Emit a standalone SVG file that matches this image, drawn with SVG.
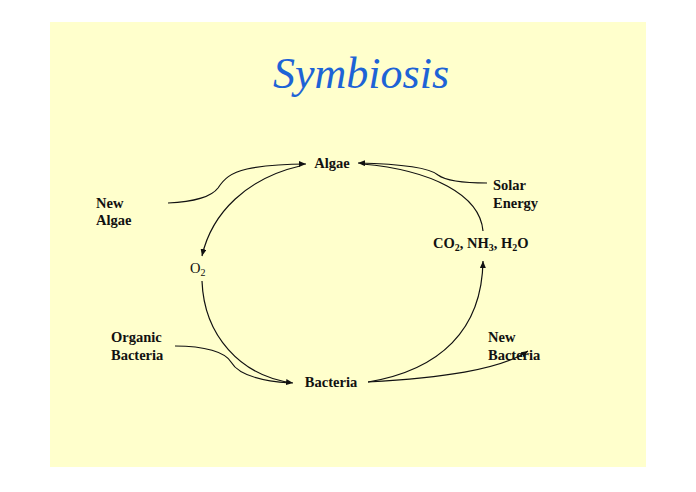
<svg xmlns="http://www.w3.org/2000/svg" width="696" height="492" viewBox="0 0 696 492">
  <style>
    .lbl { font-family: "Liberation Serif", "Times New Roman", serif; font-weight: bold; font-size: 14.5px; fill: #111; }
    .reg { font-family: "Liberation Serif", "Times New Roman", serif; font-size: 14.5px; fill: #111; }
    .title { font-family: "Liberation Serif", "Times New Roman", serif; font-style: italic; font-size: 44px; fill: #1d63d6; }
    .edge { fill: none; stroke: #111; stroke-width: 1.2; }
    .sub { font-size: 10px; }
  </style>
  <defs>
    <marker id="arr" markerWidth="8" markerHeight="6" refX="7" refY="3" orient="auto" markerUnits="userSpaceOnUse">
      <path d="M0,0 L7,3 L0,6 z" fill="#111"/>
    </marker>
  </defs>
  <rect x="0" y="0" width="696" height="492" fill="#ffffff"/>
  <rect x="50" y="22" width="596" height="445" fill="#ffffcc"/>
  <text class="title" x="361" y="88" text-anchor="middle">Symbiosis</text>

  <g id="connectors">
    <path class="edge" marker-end="url(#arr)" d="M168,203 C195,202 212,196 218,188 C224,179 230,173 247,169 C267,165 287,164 306,164"/>
    <path class="edge" marker-end="url(#arr)" d="M300,166 C248,178 212,212 202,256"/>
    <path class="edge" marker-end="url(#arr)" d="M487,183 C465,183 446,181 438,175 C430,168 402,164 358,163"/>
    <path class="edge" d="M483,231 C480,195 432,170 362,164"/>
    <path class="edge" marker-end="url(#arr)" d="M202,281 C204,335 240,376 293,383"/>
    <path class="edge" d="M175,346 C205,346 225,352 231,362 C238,374 260,381 290,383"/>
    <path class="edge" marker-end="url(#arr)" d="M368,382 C440,370 482,330 483,261"/>
    <path class="edge" marker-end="url(#arr)" d="M368,382 C440,378 500,370 528,351"/>
  </g>

  <g id="algae"><text class="lbl" x="332" y="168" text-anchor="middle">Algae</text></g>
  <g id="solar-energy">
    <text class="lbl" x="493" y="190">Solar</text>
    <text class="lbl" x="493" y="208">Energy</text>
  </g>
  <g id="new-algae">
    <text class="lbl" x="96" y="208">New</text>
    <text class="lbl" x="96" y="225">Algae</text>
  </g>
  <g id="co2-nh3-h2o">
    <text class="lbl" x="433" y="248">CO<tspan class="sub" dy="3">2</tspan><tspan dy="-3">, NH</tspan><tspan class="sub" dy="3">3</tspan><tspan dy="-3">, H</tspan><tspan class="sub" dy="3">2</tspan><tspan dy="-3">O</tspan></text>
  </g>
  <g id="o2">
    <text class="reg" x="190" y="273">O<tspan class="sub" dy="3">2</tspan></text>
  </g>
  <g id="organic-bacteria">
    <text class="lbl" x="111" y="342">Organic</text>
    <text class="lbl" x="111" y="360">Bacteria</text>
  </g>
  <g id="bacteria"><text class="lbl" x="331" y="387" text-anchor="middle">Bacteria</text></g>
  <g id="new-bacteria">
    <text class="lbl" x="488" y="342">New</text>
    <text class="lbl" x="488" y="360">Bacteria</text>
  </g>
</svg>
